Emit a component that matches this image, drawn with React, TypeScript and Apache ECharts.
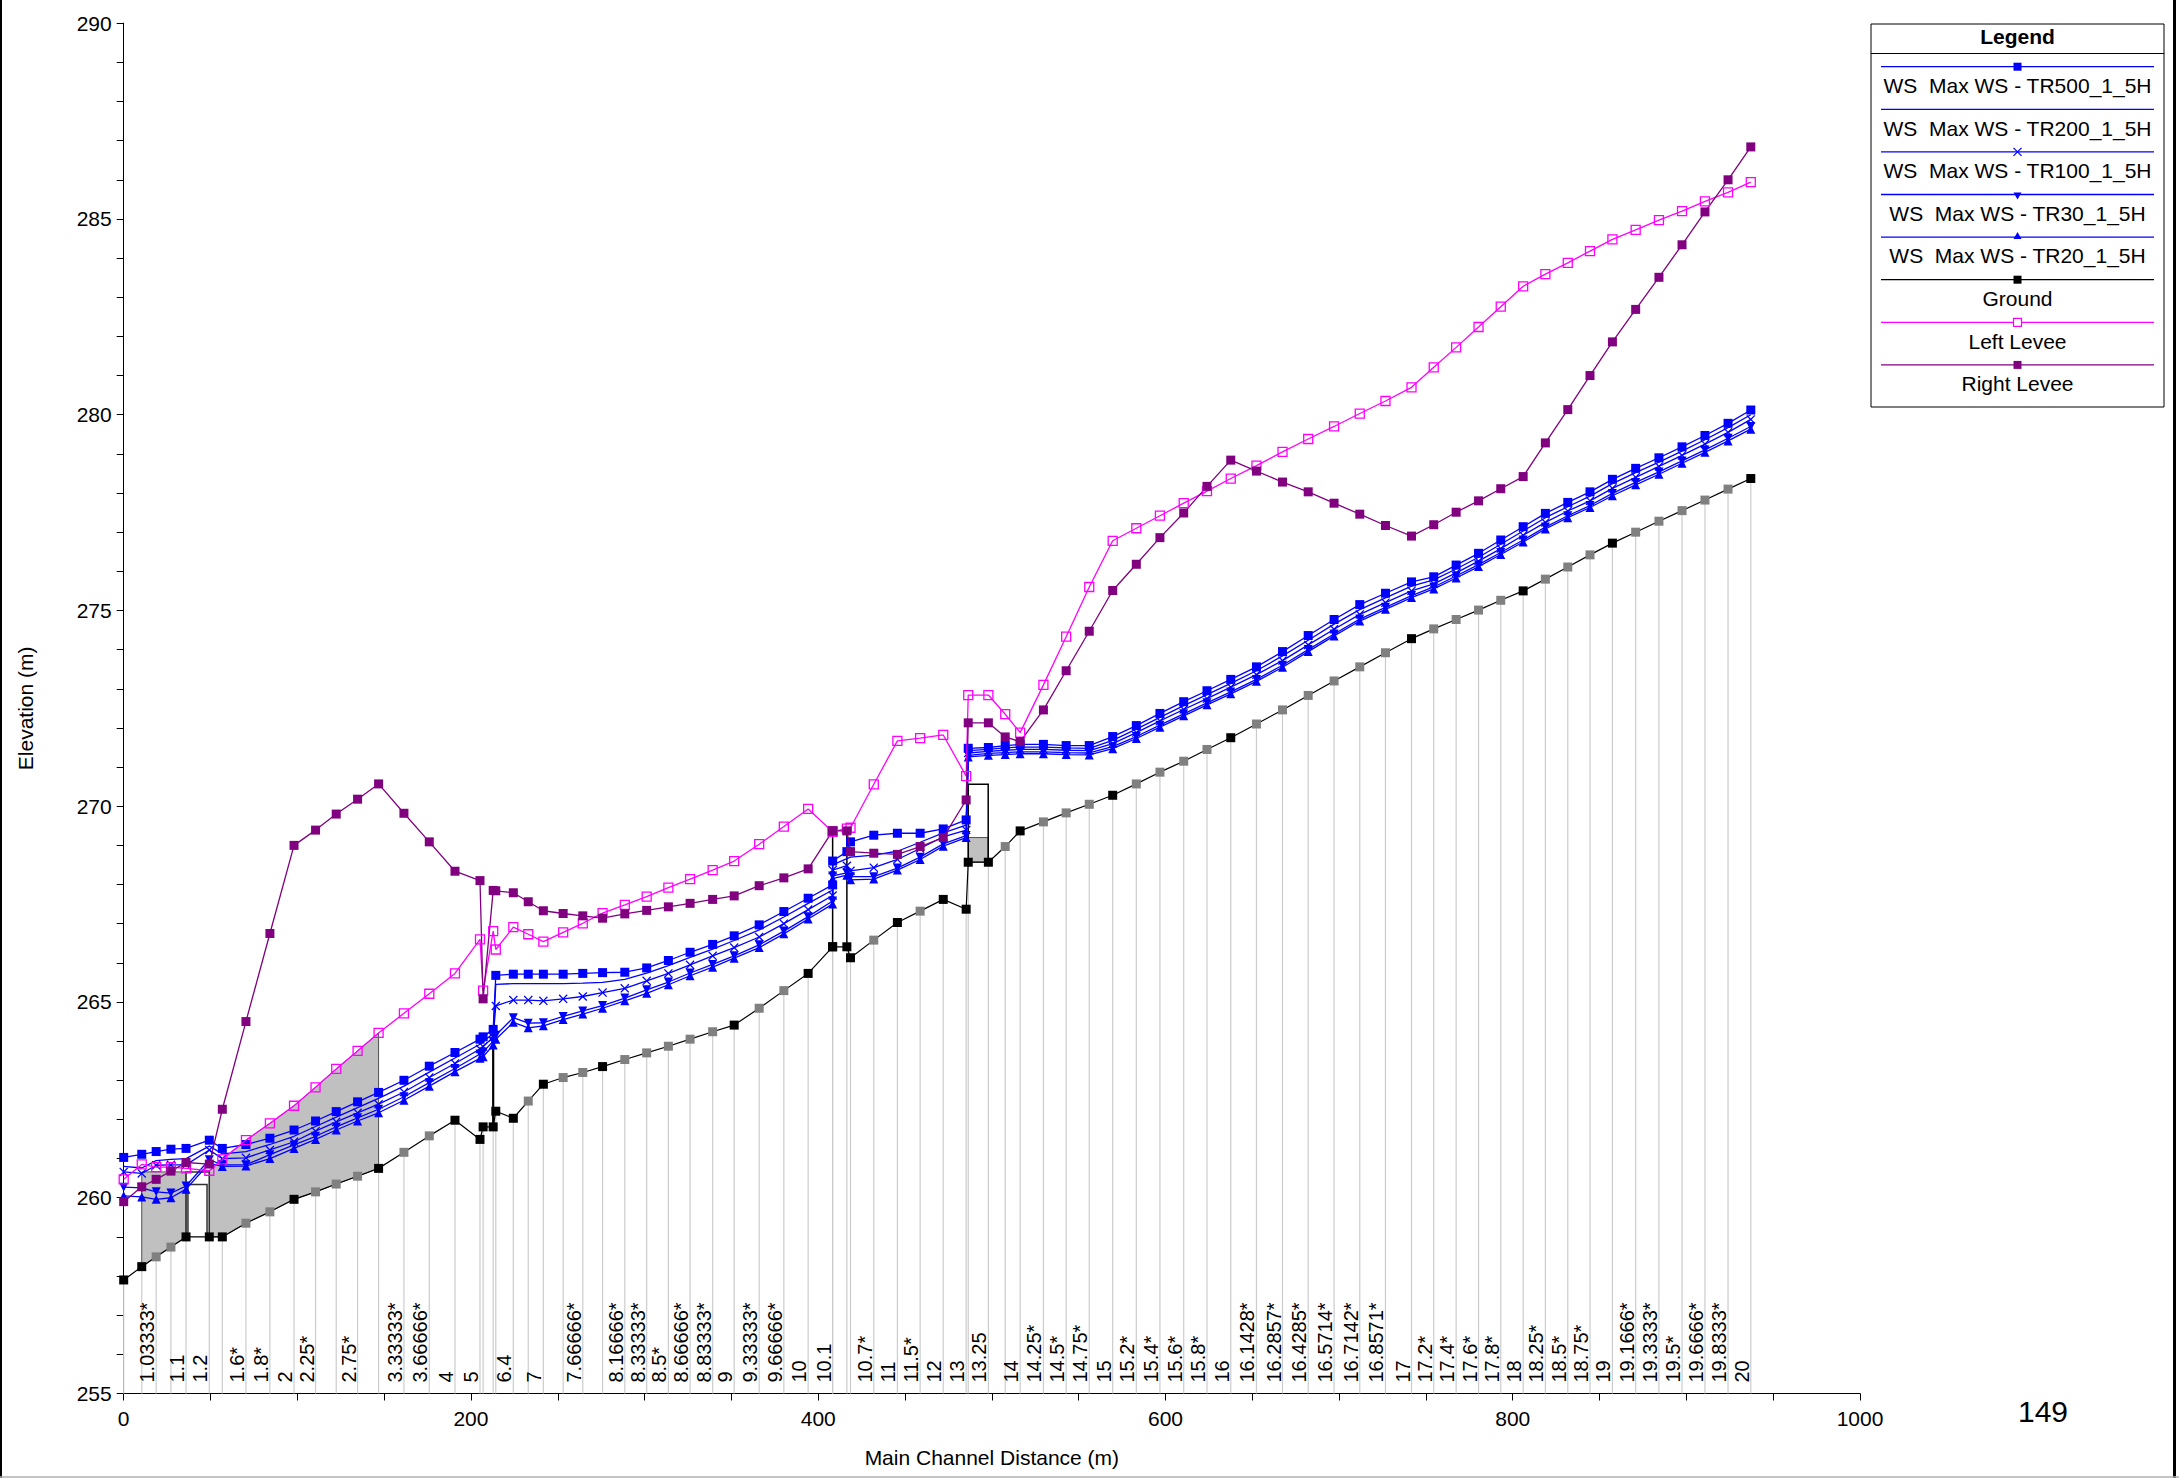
import React, { useEffect, useRef } from "react";
import * as echarts from "echarts";

const FONT = "'Liberation Sans', Arial, Helvetica, sans-serif";

// ---- Data (main channel distance in m, elevations in m) ----
const stationDist = [
  0, 10.4, 18.7, 27.2, 35.9, 49.3, 56.8, 70.4, 84.2, 98.1,
  110.5, 122.4, 134.7, 146.8, 161.4, 176.0, 190.8, 205.2, 207.0, 212.8,
  214.3, 224.4, 233.0, 241.7, 253.1, 264.4, 275.8, 288.6, 301.2, 313.7,
  326.2, 339.2, 351.6, 366.0, 380.2, 394.2, 408.3, 408.3, 416.5, 418.6,
  432.0, 445.6, 458.7, 472.0, 485.2, 486.4, 498.0, 507.7, 516.3, 529.7,
  542.8, 556.1, 569.6, 583.2, 596.8, 610.5, 623.9, 637.6, 652.4, 667.4,
  682.2, 697.1, 711.9, 726.7, 741.7, 754.5, 767.4, 780.3, 793.1, 806.0,
  818.8, 831.7, 844.5, 857.4, 870.8, 884.2, 897.5, 910.7, 924.0, 937.1,
];

const stationLabels = [
  "", "", "1.03333*", "", "1.1", "1.2", "", "1.6*", "1.8*", "2",
  "2.25*", "", "2.75*", "", "3.33333*", "3.66666*", "4", "5", "", "",
  "", "6.4", "", "7", "", "7.66666*", "", "8.16666*", "8.33333*", "8.5*",
  "8.66666*", "8.83333*", "9", "9.33333*", "9.66666*", "10", "10.1", "", "", "",
  "10.7*", "11", "11.5*", "12", "13", "", "13.25", "", "14", "14.25*",
  "14.5*", "14.75*", "15", "15.2*", "15.4*", "15.6*", "15.8*", "16", "16.1428*", "16.2857*",
  "16.4285*", "16.5714*", "16.7142*", "16.8571*", "17", "17.2*", "17.4*", "17.6*", "17.8*", "18",
  "18.25*", "18.5*", "18.75*", "19", "19.1666*", "19.3333*", "19.5*", "19.6666*", "19.8333*", "20",
];

const groundElev = [
  257.9, 258.24, 258.49, 258.74, 259.0, 259.0, 259.0, 259.35, 259.64, 259.96,
  260.15, 260.35, 260.55, 260.75, 261.16, 261.58, 261.98, 261.49, 261.81, 261.81,
  262.21, 262.03, 262.47, 262.9, 263.07, 263.2, 263.35, 263.53, 263.7, 263.87,
  264.05, 264.24, 264.41, 264.84, 265.29, 265.73, 266.41, 266.41, 266.41, 266.13,
  266.58, 267.03, 267.32, 267.62, 267.37, 268.57, 268.57, 268.97, 269.37, 269.6,
  269.83, 270.05, 270.28, 270.57, 270.87, 271.15, 271.45, 271.75, 272.1, 272.46,
  272.83, 273.2, 273.56, 273.92, 274.28, 274.53, 274.77, 275.01, 275.26, 275.5,
  275.8, 276.11, 276.42, 276.72, 277.0, 277.28, 277.55, 277.82, 278.1, 278.37,
];

// 1 = interpolated cross section (grey marker)
const groundInterp = [
  0, 0, 1, 1, 0, 0, 0, 1, 1, 0,
  1, 1, 1, 0, 1, 1, 0, 0, 0, 0,
  0, 0, 1, 0, 1, 1, 0, 1, 1, 1,
  1, 1, 0, 1, 1, 0, 0, 0, 0, 0,
  1, 0, 1, 0, 0, 0, 0, 1, 0, 1,
  1, 1, 0, 1, 1, 1, 1, 0, 1, 1,
  1, 1, 1, 1, 0, 1, 1, 1, 1, 0,
  1, 1, 1, 0, 1, 1, 1, 1, 1, 0,
];

const wsTR500 = [
  261.03, 261.11, 261.18, 261.24, 261.26, 261.47, 261.26, 261.36, 261.52, 261.73,
  261.96, 262.2, 262.45, 262.69, 263.0, 263.36, 263.71, 264.05, 264.11, 264.3,
  265.68, 265.71, 265.71, 265.71, 265.71, 265.73, 265.75, 265.76, 265.87, 266.06,
  266.27, 266.47, 266.69, 266.97, 267.31, 267.65, 267.99, 268.6, 268.84, 269.09,
  269.26, 269.31, 269.31, 269.42, 269.65, 271.48, 271.5, 271.55, 271.58, 271.58,
  271.55, 271.55, 271.78, 272.06, 272.37, 272.67, 272.95, 273.24, 273.56, 273.95,
  274.36, 274.77, 275.15, 275.44, 275.73, 275.86, 276.16, 276.46, 276.8, 277.14,
  277.48, 277.76, 278.03, 278.35, 278.63, 278.9, 279.18, 279.47, 279.78, 280.12,
];

const wsTR200 = [
  260.8, 260.76, 260.95, 260.98, 261.0, 261.32, 261.12, 261.18, 261.36, 261.57,
  261.82, 262.06, 262.3, 262.54, 262.85, 263.21, 263.57, 263.92, 263.98, 264.2,
  265.45, 265.47, 265.47, 265.47, 265.47, 265.48, 265.5, 265.58, 265.74, 265.93,
  266.14, 266.35, 266.57, 266.84, 267.17, 267.52, 267.86, 268.5, 268.66, 268.7,
  268.75, 268.85, 269.08, 269.32, 269.52, 271.42, 271.45, 271.49, 271.51, 271.51,
  271.49, 271.48, 271.68, 271.97, 272.27, 272.57, 272.85, 273.14, 273.46, 273.84,
  274.24, 274.65, 275.02, 275.32, 275.62, 275.78, 276.06, 276.36, 276.69, 277.03,
  277.37, 277.65, 277.92, 278.24, 278.52, 278.79, 279.07, 279.36, 279.67, 280.0,
];

const wsTR100 = [
  260.66, 260.62, 260.83, 260.84, 260.84, 261.22, 261.0, 261.02, 261.22, 261.43,
  261.7, 261.94, 262.17, 262.39, 262.7, 263.07, 263.43, 263.8, 263.86, 264.1,
  264.9, 265.05, 265.05, 265.03, 265.08, 265.14, 265.24, 265.35, 265.54, 265.73,
  265.95, 266.18, 266.39, 266.66, 267.0, 267.36, 267.72, 268.37, 268.48, 268.35,
  268.43, 268.64, 268.92, 269.22, 269.39, 271.36, 271.4, 271.43, 271.45, 271.45,
  271.43, 271.42, 271.6, 271.88, 272.18, 272.47, 272.75, 273.04, 273.36, 273.72,
  274.12, 274.52, 274.9, 275.2, 275.5, 275.68, 275.96, 276.26, 276.58, 276.92,
  277.25, 277.54, 277.8, 278.12, 278.4, 278.68, 278.96, 279.25, 279.55, 279.88,
];

const wsTR30 = [
  260.27, 260.25, 260.15, 260.12, 260.3, 260.97, 260.84, 260.84, 261.1, 261.35,
  261.57, 261.81, 262.04, 262.26, 262.58, 262.94, 263.3, 263.67, 263.72, 264.0,
  264.15, 264.6, 264.46, 264.47, 264.63, 264.77, 264.91, 265.1, 265.31, 265.51,
  265.74, 265.96, 266.18, 266.46, 266.81, 267.18, 267.58, 268.22, 268.3, 268.2,
  268.2, 268.42, 268.7, 269.04, 269.25, 271.3, 271.35, 271.37, 271.39, 271.39,
  271.37, 271.36, 271.52, 271.78, 272.07, 272.36, 272.64, 272.92, 273.24, 273.6,
  274.0, 274.4, 274.78, 275.08, 275.38, 275.6, 275.88, 276.17, 276.48, 276.8,
  277.13, 277.42, 277.68, 277.99, 278.27, 278.54, 278.82, 279.1, 279.4, 279.7,
];

const wsTR20 = [
  260.05, 260.02, 259.96, 260.0, 260.22, 260.88, 260.8, 260.81, 261.0, 261.26,
  261.49, 261.73, 261.96, 262.17, 262.49, 262.85, 263.22, 263.56, 263.6, 263.9,
  264.05, 264.48, 264.34, 264.39, 264.55, 264.69, 264.84, 265.03, 265.22, 265.44,
  265.67, 265.89, 266.12, 266.39, 266.74, 267.12, 267.5, 268.15, 268.24, 268.12,
  268.14, 268.37, 268.64, 268.98, 269.2, 271.26, 271.3, 271.32, 271.34, 271.34,
  271.32, 271.31, 271.47, 271.73, 272.02, 272.31, 272.59, 272.87, 273.19, 273.55,
  273.95, 274.35, 274.73, 275.03, 275.33, 275.55, 275.83, 276.12, 276.43, 276.75,
  277.08, 277.37, 277.63, 277.93, 278.21, 278.48, 278.76, 279.04, 279.33, 279.63,
];

const leftLevee = [
  260.47, 260.85, 260.78, 260.78, 260.75, 260.69, 260.98, 261.47, 261.9, 262.35,
  262.82, 263.29, 263.75, 264.21, 264.71, 265.21, 265.73, 266.6, 265.29, 266.81,
  266.34, 266.91, 266.73, 266.54, 266.78, 267.01, 267.27, 267.48, 267.69, 267.92,
  268.14, 268.37, 268.6, 269.03, 269.48, 269.93, 269.35, 269.35, 269.43, 269.45,
  270.56, 271.67, 271.74, 271.82, 270.77, 272.84, 272.84, 272.35, 271.88, 273.1,
  274.33, 275.6, 276.78, 277.1, 277.42, 277.74, 278.05, 278.37, 278.7, 279.05,
  279.38, 279.7, 280.03, 280.35, 280.7, 281.21, 281.72, 282.24, 282.76, 283.28,
  283.59, 283.88, 284.18, 284.48, 284.72, 284.97, 285.2, 285.45, 285.68, 285.94,
];

const rightLevee = [
  259.9, 260.28, 260.47, 260.68, 260.9, 260.86, 262.26, 264.5, 266.75, 269.0,
  269.39, 269.8, 270.18, 270.57, 269.82, 269.09, 268.34, 268.1, 265.08, 267.85,
  267.84, 267.79, 267.56, 267.33, 267.26, 267.2, 267.14, 267.25, 267.34, 267.43,
  267.52, 267.62, 267.71, 267.97, 268.17, 268.4, 269.37, 269.37, 269.37, 268.84,
  268.8, 268.77, 268.97, 269.2, 270.16, 272.13, 272.13, 271.77, 271.65, 272.46,
  273.46, 274.47, 275.51, 276.18, 276.86, 277.49, 278.17, 278.84, 278.56, 278.28,
  278.03, 277.74, 277.46, 277.17, 276.9, 277.19, 277.51, 277.8, 278.11, 278.42,
  279.28, 280.13, 281.0, 281.86, 282.69, 283.51, 284.34, 285.18, 286.0, 286.84,
];

// structure geometry (distance, elevation)
const culvertTop = 260.66;
const culvertBoxOuter = [[35.9, 259.0], [35.9, 260.66], [49.3, 260.66], [49.3, 259.0]];
const culvertBoxInner = [[37.0, 259.0], [37.0, 260.34], [48.0, 260.34], [48.0, 259.0]];
const structureLines = [
  [[212.8, 261.81], [212.8, 264.35]],
  [[408.3, 266.41], [408.3, 269.37]],
  [[416.5, 266.41], [416.5, 269.37]],
  [[486.4, 268.57], [486.4, 270.56], [497.9, 270.56], [497.9, 268.57]],
];
const weirFill = [[486.4, 268.57], [497.9, 268.57], [497.9, 269.2], [486.4, 269.2]];

const xTickLabels = [0, 200, 400, 600, 800, 1000];
const yTickLabels = [255, 260, 265, 270, 275, 280, 285, 290];

const legendNames = [
  "WS  Max WS - TR500_1_5H",
  "WS  Max WS - TR200_1_5H",
  "WS  Max WS - TR100_1_5H",
  "WS  Max WS - TR30_1_5H",
  "WS  Max WS - TR20_1_5H",
  "Ground",
  "Left Levee",
  "Right Levee",
];

const BLUE = "#0000ff";
const MAGENTA = "#ff00ff";
const PURPLE = "#800080";
const CROSS = "path://M0,1L1,0L5,4L9,0L10,1L6,5L10,9L9,10L5,6L1,10L0,9L4,5Z";

function buildShapes() {
  const culvertFill: number[][] = [];
  for (let i = 1; i <= 4; i++) culvertFill.push([stationDist[i], groundElev[i]]);
  culvertFill.push([stationDist[4], culvertTop]);
  culvertFill.push([stationDist[1], culvertTop]);
  const leveeFill: number[][] = [];
  for (let i = 5; i <= 13; i++) leveeFill.push([stationDist[i], groundElev[i]]);
  for (let i = 13; i >= 5; i--) leveeFill.push([stationDist[i], leftLevee[i]]);
  const shapes: any[] = [
    { kind: "fill", pts: culvertFill },
    { kind: "fill", pts: leveeFill },
    { kind: "fill", pts: weirFill },
    { kind: "line", pts: culvertBoxOuter, color: "#303030", width: 1.5 },
    { kind: "line", pts: culvertBoxInner, color: "#303030", width: 1.5 },
  ];
  structureLines.forEach((pts, i) =>
    shapes.push({ kind: "line", pts, color: "#000", width: i === 0 ? 2.2 : 1.5 })
  );
  return shapes;
}

function buildLegend() {
  const L = 1871, T = 24, W = 293, H = 383;
  const cx = L + W / 2;
  const els: any[] = [
    { type: "rect", shape: { x: L, y: T, width: W, height: H }, style: { fill: "#fff", stroke: "#000", lineWidth: 1 } },
    {
      type: "text", x: cx, y: 36,
      style: { text: "Legend", fontSize: 21, fontWeight: "bold", fontFamily: FONT, fill: "#000", align: "center", verticalAlign: "middle", textAlign: "center", textVerticalAlign: "middle" },
    },
    { type: "line", shape: { x1: L, y1: 53.5, x2: L + W, y2: 53.5 }, style: { stroke: "#000", lineWidth: 1 } },
  ];
  const colors = [BLUE, BLUE, BLUE, BLUE, BLUE, "#000", MAGENTA, PURPLE];
  const markers = ["sq", "none", "x", "down", "up", "sq", "open", "sq"];
  legendNames.forEach((name, i) => {
    const ly = 66.7 + i * 42.6;
    const ty = 85.5 + i * 42.6;
    const c = colors[i];
    els.push({ type: "line", shape: { x1: L + 10, y1: ly, x2: L + W - 10, y2: ly }, style: { stroke: c, lineWidth: 1.3 } });
    const m = markers[i];
    if (m === "sq") els.push({ type: "rect", shape: { x: cx - 4, y: ly - 4, width: 8, height: 8 }, style: { fill: c } });
    if (m === "open") els.push({ type: "rect", shape: { x: cx - 4, y: ly - 4, width: 8, height: 8 }, style: { fill: "#fff", stroke: c, lineWidth: 1.2 } });
    if (m === "x") {
      els.push({ type: "line", shape: { x1: cx - 4, y1: ly - 4, x2: cx + 4, y2: ly + 4 }, style: { stroke: c, lineWidth: 1.2 } });
      els.push({ type: "line", shape: { x1: cx - 4, y1: ly + 4, x2: cx + 4, y2: ly - 4 }, style: { stroke: c, lineWidth: 1.2 } });
    }
    if (m === "down") els.push({ type: "polygon", shape: { points: [[cx - 4, ly - 2], [cx + 4, ly - 2], [cx, ly + 5]] }, style: { fill: c } });
    if (m === "up") els.push({ type: "polygon", shape: { points: [[cx - 4, ly + 2], [cx + 4, ly + 2], [cx, ly - 5]] }, style: { fill: c } });
    els.push({
      type: "text", x: cx, y: ty,
      style: { text: name, fontSize: 21, fontFamily: FONT, fill: "#000", align: "center", verticalAlign: "middle", textAlign: "center", textVerticalAlign: "middle" },
    });
  });
  els.forEach((e) => (e.z = 100));
  return els;
}

export default function App() {
  const ref = useRef<HTMLDivElement>(null);
  useEffect(() => {
    if (!ref.current) return;
    const chart = echarts.init(ref.current, null, { renderer: "svg" });
    const shapes = buildShapes();
    const pts = (vals: number[]) => stationDist.map((d, i) => [d, vals[i]]);
    const wsSeries = (name: string, vals: number[], symbol: string, size: number, extra: any = {}) => ({
      type: "line",
      name,
      data: pts(vals),
      symbol,
      symbolSize: size,
      showSymbol: symbol !== "none",
      showAllSymbol: true,
      lineStyle: { color: BLUE, width: 1.3 },
      itemStyle: { color: BLUE },
      z: 5,
      ...extra,
    });

    const option: any = {
      animation: false,
      backgroundColor: "#fff",
      textStyle: { fontFamily: FONT },
      grid: { left: 123.7, right: 319, top: 23.2, bottom: 84.5, containLabel: false },
      xAxis: {
        type: "value",
        min: 0,
        max: 1000,
        interval: 200,
        name: "Main Channel Distance (m)",
        nameLocation: "middle",
        nameGap: 53,
        nameTextStyle: { fontSize: 21, color: "#000", fontFamily: FONT },
        axisLine: { show: true, onZero: false, lineStyle: { color: "#000", width: 1 } },
        axisTick: { show: true, inside: false, length: 7, lineStyle: { color: "#000" } },
        minorTick: { show: true, splitNumber: 4, length: 7, lineStyle: { color: "#000" } },
        axisLabel: {
          fontSize: 21, color: "#000", fontFamily: FONT, margin: 14,
          formatter: (v: number) => (xTickLabels.indexOf(v) >= 0 ? String(v) : ""),
        },
        splitLine: { show: false },
      },
      yAxis: {
        type: "value",
        min: 255,
        max: 290,
        interval: 5,
        name: "Elevation (m)",
        nameLocation: "middle",
        nameGap: 88,
        nameTextStyle: { fontSize: 21, color: "#000", fontFamily: FONT },
        axisLine: { show: true, onZero: false, lineStyle: { color: "#000", width: 1 } },
        axisTick: { show: true, inside: false, length: 7, lineStyle: { color: "#000" } },
        minorTick: { show: true, splitNumber: 5, length: 7, lineStyle: { color: "#000" } },
        axisLabel: {
          fontSize: 21, color: "#000", fontFamily: FONT, margin: 12,
          formatter: (v: number) => (yTickLabels.indexOf(v) >= 0 ? String(v) : ""),
        },
        splitLine: { show: false },
      },
      series: [
        {
          type: "custom",
          name: "stations",
          z: 1,
          silent: true,
          data: stationDist.map((d, i) => [d, groundElev[i]]),
          renderItem: (params: any, api: any) => {
            const d = api.value(0);
            const g = api.value(1);
            const base = api.coord([d, 255]);
            const top = api.coord([d, g]);
            const children: any[] = [
              { type: "line", shape: { x1: base[0], y1: base[1], x2: top[0], y2: top[1] }, style: { stroke: "#cccccc", lineWidth: 1.2 } },
            ];
            const lbl = stationLabels[params.dataIndex];
            if (lbl) {
              children.push({
                type: "text",
                x: base[0] + 1,
                y: base[1] - 11,
                rotation: Math.PI / 2,
                style: { text: lbl, fontSize: 20, fontFamily: FONT, fill: "#000", align: "left", verticalAlign: "bottom" },
              });
            }
            return { type: "group", children };
          },
        },
        {
          type: "custom",
          name: "structures",
          z: 2,
          silent: true,
          data: shapes.map((s: any) => s.pts[0]),
          renderItem: (params: any, api: any) => {
            const s = shapes[params.dataIndex];
            const points = s.pts.map((p: number[]) => api.coord(p));
            if (s.kind === "fill") {
              return { type: "polygon", shape: { points }, style: { fill: "#c0c0c0", stroke: "#505050", lineWidth: 1 } };
            }
            return { type: "polyline", shape: { points }, style: { stroke: s.color, lineWidth: s.width, fill: "none" } };
          },
        },
        wsSeries("WS  Max WS - TR20_1_5H", wsTR20, "triangle", 9),
        wsSeries("WS  Max WS - TR30_1_5H", wsTR30, "triangle", 9, { symbolRotate: 180 }),
        wsSeries("WS  Max WS - TR100_1_5H", wsTR100, CROSS, 9),
        wsSeries("WS  Max WS - TR200_1_5H", wsTR200, "none", 0),
        wsSeries("WS  Max WS - TR500_1_5H", wsTR500, "rect", 9),
        {
          type: "line",
          name: "Ground",
          data: stationDist.map((d, i) => ({
            value: [d, groundElev[i]],
            itemStyle: { color: groundInterp[i] ? "#808080" : "#000" },
          })),
          symbol: "rect",
          symbolSize: 9,
          showAllSymbol: true,
          lineStyle: { color: "#000", width: 1.2 },
          itemStyle: { color: "#000" },
          z: 6,
        },
        {
          type: "line",
          name: "Left Levee",
          data: pts(leftLevee),
          symbol: "rect",
          symbolSize: 9,
          showAllSymbol: true,
          lineStyle: { color: MAGENTA, width: 1.3 },
          itemStyle: { color: "rgba(255,255,255,0)", borderColor: MAGENTA, borderWidth: 1.3 },
          z: 7,
        },
        {
          type: "line",
          name: "Right Levee",
          data: pts(rightLevee),
          symbol: "rect",
          symbolSize: 9,
          showAllSymbol: true,
          lineStyle: { color: PURPLE, width: 1.3 },
          itemStyle: { color: PURPLE },
          z: 7,
        },
      ],
      graphic: [
        ...buildLegend(),
        {
          type: "text", x: 2043, y: 1411, z: 100,
          style: { text: "149", fontSize: 30, fontFamily: FONT, fill: "#000", align: "center", verticalAlign: "middle", textAlign: "center", textVerticalAlign: "middle" },
        },
        { type: "line", z: 100, shape: { x1: 1, y1: 0, x2: 1, y2: 1478 }, style: { stroke: "#000", lineWidth: 2 } },
        { type: "line", z: 100, shape: { x1: 2174.5, y1: 0, x2: 2174.5, y2: 1478 }, style: { stroke: "#000", lineWidth: 3 } },
        { type: "line", z: 100, shape: { x1: 0, y1: 1477, x2: 2179, y2: 1477 }, style: { stroke: "#b0b0b0", lineWidth: 1.5 } },
      ],
    };
    chart.setOption(option);
    return () => chart.dispose();
  }, []);
  return (
    <div
      ref={ref}
      style={{ position: "absolute", left: 0, top: 0, width: 2179, height: 1478, background: "#fff" }}
    />
  );
}
